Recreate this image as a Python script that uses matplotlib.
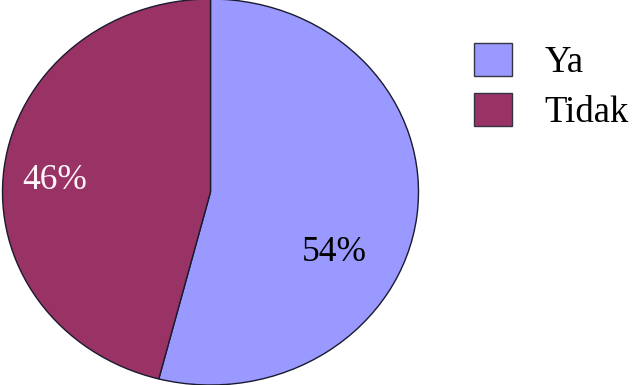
import matplotlib
matplotlib.use("Agg")
import matplotlib.pyplot as plt
from matplotlib.patches import Patch

categories = ["Ya", "Tidak"]
values = [54, 46]
colors = ["#9999FF", "#993366"]
label_colors = ["black", "#FFF4F8"]

W, H = 633, 385
fig = plt.figure(figsize=(W / 100, H / 100), dpi=100)
plt.rcParams['font.family'] = ['Liberation Serif', 'DejaVu Serif']

# pie axes in pixel geometry (ellipse slightly squashed as in reference)
cx, cy, rx, ry = 210.5, 192.0, 208.0, 193.0
ax = fig.add_axes([(cx - rx) / W, (H - cy - ry) / H, 2 * rx / W, 2 * ry / H])
wedges, texts, autotexts = ax.pie(
    values, colors=colors, startangle=90, counterclock=False,
    autopct='%1.0f%%', radius=1.0,
    wedgeprops=dict(edgecolor="#1a1a2e", linewidth=1.0),
    textprops=dict(fontsize=25.5))
ax.set_xlim(-1, 1)
ax.set_ylim(-1, 1)
ax.set_aspect('auto')
ax.axis('off')

label_pos = [(0.594, -0.311), (-0.748, 0.062)]
for t, pos, c in zip(autotexts, label_pos, label_colors):
    t.set_position(pos)
    t.set_color(c)
    t.set_ha('center')
    t.set_va('center')

fs = 26.5
handles = [Patch(facecolor=c, edgecolor="#333344", linewidth=1.0) for c in colors]
leg = fig.legend(handles, categories, loc='upper left',
                 bbox_to_anchor=(474 / W, 1 - 43 / H),
                 frameon=False, fontsize=fs, handlelength=1.04, handleheight=1.0,
                 handletextpad=0.88, labelspacing=0.35, borderpad=0, borderaxespad=0)

fig.savefig("out.png", dpi=100)
